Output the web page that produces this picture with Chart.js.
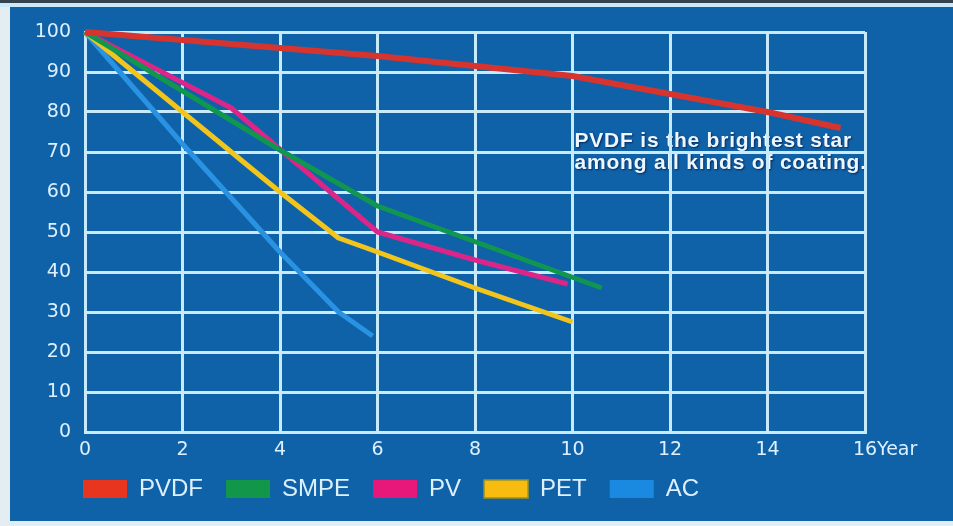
<!DOCTYPE html>
<html>
<head>
<meta charset="utf-8">
<script src="https://cdn.jsdelivr.net/npm/chart.js@4/dist/chart.umd.min.js"></script>
<style>
  html, body { margin: 0; padding: 0; background: #e4edf2; }
  #wrap { width: 953px; height: 526px; position: relative; }
</style>
</head>
<body>
<div id="wrap"><canvas id="c" width="953" height="526"></canvas></div>
<script>
// Coating names and their colour retention (%) over the years
const seriesNames = ['PVDF', 'SMPE', 'PV', 'PET', 'AC'];

const pvdfYears  = [0, 2, 4, 6, 8, 10, 12, 14, 15.5];
const pvdfValues = [100, 98, 96, 94, 91.5, 89, 84.5, 80, 76];

const smpeYears  = [0, 4, 6, 10.6];
const smpeValues = [100, 70.5, 56.5, 36];

const pvYears  = [0, 3, 6, 8, 9.9];
const pvValues = [100, 81, 50, 43, 37];

const petYears  = [0, 4, 5.2, 6, 8, 10];
const petValues = [100, 60, 48.5, 45, 36, 27.5];

const acYears  = [0, 2, 4, 5.2, 5.9];
const acValues = [100, 72, 45, 30, 24];

const yearTicks = [0, 2, 4, 6, 8, 10, 12, 14, 16];
const valueTicks = [0, 10, 20, 30, 40, 50, 60, 70, 80, 90, 100];
const xUnit = 'Year';
const noteLines = ['PVDF is the brightest star', 'among all kinds of coating.'];

const lineColors = ['#d8342f', '#119650', '#dc2588', '#f2c51c', '#2a92e2'];
const boxColors  = ['#e8351f', '#12964a', '#e8187a', '#f8bb0f', '#1a8ae0'];
const boxBorders = ['#e8351f', '#12964a', '#e8187a', '#9a9322', '#1a8ae0'];

const BG = '#1062a8';
const GRID = '#c8ebfc';
const TEXT = '#dcf0ff';

function points(xs, ys) {
  return xs.map((x, i) => ({ x: x, y: ys[i] }));
}

const allYears = [pvdfYears, smpeYears, pvYears, petYears, acYears];
const allValues = [pvdfValues, smpeValues, pvValues, petValues, acValues];

const datasets = seriesNames.map((name, i) => ({
  label: name,
  data: points(allYears[i], allValues[i]),
  borderColor: lineColors[i],
  backgroundColor: boxColors[i],
  borderWidth: i === 0 ? 6 : 5,
  pointRadius: 0,
  tension: 0,
  clip: false,
  borderJoinStyle: 'round'
}));

// Panel background, frame and the note text (drawn beneath the grid)
const panelPlugin = {
  id: 'panel',
  afterLayout(chart) {
    // let tick labels extend past the narrow axis boxes
    chart.scales.y.left = 0;
    chart.scales.x.bottom = chart.height;
  },
  beforeDraw(chart) {
    const ctx = chart.ctx;
    const w = chart.width, h = chart.height;
    ctx.save();
    ctx.fillStyle = '#e4edf2';
    ctx.fillRect(0, 0, w, h);
    ctx.fillStyle = '#34434f';
    ctx.fillRect(0, 0, w, 3);
    ctx.fillStyle = '#cbe9f7';
    ctx.fillRect(0, 3, w, 4);
    ctx.fillStyle = BG;
    ctx.fillRect(10, 7, w - 10, 514);

    const xs = chart.scales.x;
    const ys = chart.scales.y;
    ctx.font = 'bold 21px "Liberation Sans", Arial, sans-serif';
    if ('letterSpacing' in ctx) ctx.letterSpacing = '0.8px';
    ctx.textAlign = 'left';
    ctx.textBaseline = 'alphabetic';
    ctx.fillStyle = '#eef7ff';
    ctx.shadowColor = 'rgba(0,20,60,0.75)';
    ctx.shadowBlur = 2;
    ctx.shadowOffsetX = 1;
    ctx.shadowOffsetY = 1;
    const tx = xs.getPixelForValue(10) + 2;
    ctx.fillText(noteLines[0], tx, ys.getPixelForValue(71.2));
    ctx.fillText(noteLines[1], tx, ys.getPixelForValue(65.8));
    ctx.restore();
  },
  afterDraw(chart) {
    // unit label right after the last year tick
    const ctx = chart.ctx;
    const xs = chart.scales.x;
    const opt = xs.options.ticks;
    const size = opt.font.size;
    ctx.save();
    ctx.font = size + 'px ' + opt.font.family;
    const last = yearTicks[yearTicks.length - 1];
    const w = ctx.measureText(String(last)).width;
    ctx.fillStyle = TEXT;
    ctx.textAlign = 'left';
    ctx.textBaseline = 'middle';
    ctx.fillText(xUnit, xs.getPixelForValue(last) + w / 2, xs.top + opt.padding + size * 0.6);
    ctx.restore();
  }
};

new Chart(document.getElementById('c'), {
  type: 'line',
  data: { datasets: datasets },
  plugins: [panelPlugin],
  options: {
    responsive: false,
    animation: false,
    devicePixelRatio: 1,
    layout: { padding: { left: 60, right: 88, top: 32, bottom: 15 } },
    scales: {
      x: {
        type: 'linear',
        min: 0,
        max: 16,
        afterBuildTicks(scale) { scale.ticks = yearTicks.map(v => ({ value: v })); },
        afterFit(scale) { scale.height = 22; },
        grid: { color: GRID, lineWidth: 3, drawTicks: false },
        border: { color: GRID, width: 3 },
        ticks: {
          color: TEXT,
          padding: 7,
          maxRotation: 0,
          autoSkip: false,
          font: { family: '"DejaVu Sans", sans-serif', size: 19 }
        }
      },
      y: {
        min: 0,
        max: 100,
        afterBuildTicks(scale) { scale.ticks = valueTicks.map(v => ({ value: v })); },
        afterFit(scale) { scale.width = 25; },
        grid: { color: GRID, lineWidth: 3, drawTicks: false },
        border: { color: GRID, width: 3 },
        ticks: {
          color: TEXT,
          padding: 14,
          font: { family: '"DejaVu Sans", sans-serif', size: 19 }
        }
      }
    },
    plugins: {
      tooltip: { enabled: false },
      legend: {
        position: 'bottom',
        align: 'start',
        labels: {
          boxWidth: 44,
          boxHeight: 18,
          padding: 23,
          color: TEXT,
          font: { family: '"Liberation Sans", Arial, sans-serif', size: 24 },
          generateLabels() {
            return seriesNames.map((name, i) => ({
              text: name,
              fillStyle: boxColors[i],
              strokeStyle: boxBorders[i],
              lineWidth: i === 3 ? 1.5 : 0,
              fontColor: TEXT,
              datasetIndex: i,
              hidden: false
            }));
          }
        }
      }
    }
  }
});
</script>
</body>
</html>
